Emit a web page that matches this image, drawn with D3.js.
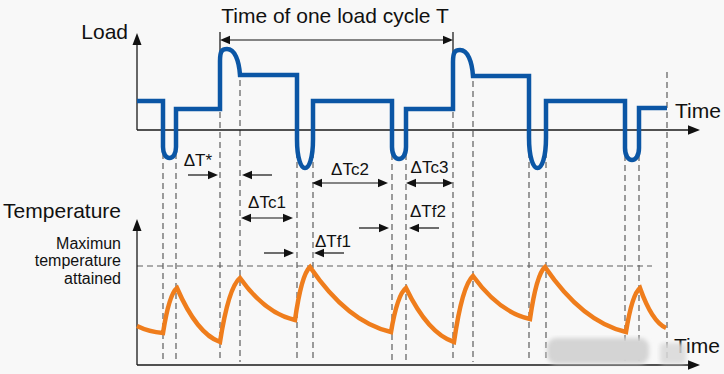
<!DOCTYPE html>
<html>
<head>
<meta charset="utf-8">
<title>Load cycle and temperature</title>
<script src="https://d3js.org/d3.v7.min.js"></script>
<style>
  body { margin: 0; background: #f8f8f8; }
  svg { display: block; font-family: "Liberation Sans", Arial, sans-serif; }
  .axis { stroke: #1a1a1a; stroke-width: 1.3; fill: none; }
  .guide { stroke: #5e5e5e; stroke-width: 1.2; stroke-dasharray: 6 4; fill: none; }
  .load { stroke: #0b56a5; stroke-width: 4.5; fill: none; stroke-linejoin: miter; }
  .temp { stroke: #ef7d1c; stroke-width: 4.5; fill: none; stroke-linejoin: miter; }
  .dim { stroke: #111; stroke-width: 1.2; fill: none; }
  .head { fill: #111; }
  .big { font-size: 21px; fill: #111; }
  .mid { font-size: 16px; fill: #111; }
  .small { font-size: 17px; fill: #111; }
</style>
</head>
<body>
<svg width="724" height="374"></svg>
<script>
// load trace: levels joined by short dips and start-up humps
const loadTimes    = [0, 26, 39, 83, 103, 160, 176, 255, 269, 316, 336, 392, 409, 488, 502, 530];
const loadLevels   = [29, 29, 21, 21, 55, 55, 29, 29, 21, 21, 54, 54, 29, 29, 22, 22];
const loadJoins    = ["start", "line", "dip", "line", "hump", "line", "dip", "line", "dip", "line", "hump", "line", "dip", "line", "dip", "line"];
const loadExtremes = [null, null, -28, null, 81, null, -38, null, -29, null, 80, null, -38, null, -30, null];

// temperature trace: alternating cooling / heating key points
const tempTimes  = [0, 26, 40, 83, 103, 158, 173, 254, 269, 317, 336, 393, 408, 489, 503, 529];
const tempValues = [39, 32, 77, 23, 87, 45, 98, 33, 77, 23, 89, 46, 98, 33, 77, 37];
const tempMax = 99;
const tempMaxEnd = 515;

// cycle length T
const cycleStart = 83, cycleEnd = 316;

// interval annotations
const spanLabels = ["\u0394T*", "\u0394Tc1", "\u0394Tf1", "\u0394Tc2", "\u0394Tc3", "\u0394Tf2"];
const spanFrom   = [83, 104, 159, 175, 269, 254];
const spanTo     = [103, 156, 175, 251, 316, 270];
const spanKinds  = ["outer", "inner", "outer", "inner", "inner", "outer"];
const spanLayout = [
  { y: 175, side: "left",   dy: -9 },
  { y: 218, side: "center", dy: -10 },
  { y: 253, side: "right",  dy: -6 },
  { y: 183, side: "center", dy: -8 },
  { y: 183, side: "center", dy: -10 },
  { y: 228, side: "right",  dy: -11 }
];

const svg = d3.select("svg");

const x = d3.scaleLinear().domain([0, 563]).range([137, 700]);
const loadY = d3.scaleLinear().domain([0, 97]).range([130, 33]);
const tempY = d3.scaleLinear().domain([0, 146]).range([365, 219]);

function head(xt, yt, dir, len, half) {
  let pts;
  if (dir === "right") pts = [[xt, yt], [xt - len, yt - half], [xt - len, yt + half]];
  else if (dir === "left") pts = [[xt, yt], [xt + len, yt - half], [xt + len, yt + half]];
  else pts = [[xt, yt], [xt - half, yt + len], [xt + half, yt + len]];
  svg.append("path").attr("class", "head").attr("d", "M" + pts.join("L") + "Z");
}

// dashed guides
const guideBottom = tempY(3);
loadTimes.forEach((t, i) => {
  if (i === 0) return;
  const py = loadY(loadLevels[i]);
  let top;
  if (loadJoins[i] === "dip") top = loadY(loadExtremes[i]) - (loadExtremes[i] < -33 ? 16 : 5);
  else if (loadJoins[i + 1] === "dip") top = loadY(loadExtremes[i + 1]) - (loadExtremes[i + 1] < -33 ? 16 : 5);
  else if (loadJoins[i] === "hump") top = py + 5;
  else if (loadJoins[i + 1] === "hump") top = py + 3;
  else top = py - 36;
  svg.append("line").attr("class", "guide")
    .attr("x1", x(t)).attr("x2", x(t))
    .attr("y1", top).attr("y2", guideBottom);
});

svg.append("line").attr("class", "guide")
  .attr("x1", x(0)).attr("x2", x(tempMaxEnd))
  .attr("y1", tempY(tempMax)).attr("y2", tempY(tempMax));

// axes
svg.append("path").attr("class", "axis")
  .attr("d", `M${x(0)},${loadY(0)}V${loadY(97) + 6}M${x(0)},${loadY(0)}H${x(563) - 6}`);
head(x(0), loadY(97), "up", 12, 4.5);
head(x(563), loadY(0), "right", 12, 4.8);

svg.append("path").attr("class", "axis")
  .attr("d", `M${x(0)},${tempY(0)}V${tempY(146) + 6}M${x(0)},${tempY(0)}H${x(563) - 6}`);
head(x(0), tempY(146), "up", 12, 4.5);
head(x(563), tempY(0), "right", 12, 4.8);

// cycle T dimension
const cycY = 40;
svg.append("path").attr("class", "dim")
  .attr("d", `M${x(cycleStart)},32V110M${x(cycleEnd)},32V110M${x(cycleStart) + 8},${cycY}H${x(cycleEnd) - 8}`);
head(x(cycleStart), cycY, "left", 10, 4.3);
head(x(cycleEnd), cycY, "right", 10, 4.3);

// load curve
const lp = d3.path();
loadTimes.forEach((t, i) => {
  const px = x(t), py = loadY(loadLevels[i]);
  if (i === 0) { lp.moveTo(px, py); return; }
  const x0 = x(loadTimes[i - 1]);
  const kind = loadJoins[i];
  if (kind === "line") {
    lp.lineTo(px, py);
  } else if (kind === "dip") {
    const yb = loadY(loadExtremes[i]);
    const w = px - x0;
    const d = w * (loadExtremes[i] < -33 ? 1.8 : 0.85);
    const yc = yb - d;
    lp.lineTo(x0, yc);
    lp.bezierCurveTo(x0, yc + d * 4 / 3, px, yc + d * 4 / 3, px, yc);
    lp.lineTo(px, py);
  } else {
    const yp = loadY(loadExtremes[i]);
    const xp = x0 + 0.35 * (px - x0);
    lp.lineTo(x0, yp + 12);
    lp.bezierCurveTo(x0, yp + 2, xp - 5, yp, xp, yp);
    lp.bezierCurveTo(xp + 0.6 * (px - xp), yp, px - 1, yp + 0.45 * (py - yp), px, py);
  }
});
svg.append("path").attr("class", "load").attr("d", lp.toString());

// temperature curve
const tp = d3.path();
tempTimes.forEach((t, i) => {
  const px = x(t), py = tempY(tempValues[i]);
  if (i === 0) { tp.moveTo(px, py); return; }
  const x0 = x(tempTimes[i - 1]), y0 = tempY(tempValues[i - 1]);
  const dx = px - x0, dy = py - y0;
  if (dy > 0) tp.bezierCurveTo(x0 + dx * 0.3, y0 + dy * 0.55, x0 + dx * 0.65, y0 + dy * 0.9, px, py);
  else tp.bezierCurveTo(x0 + dx * 0.25, y0 + dy * 0.5, x0 + dx * 0.6, y0 + dy * 0.9, px, py);
});
svg.append("path").attr("class", "temp").attr("d", tp.toString());

// interval annotations
spanLabels.forEach((label, i) => {
  const a = x(spanFrom[i]), b = x(spanTo[i]);
  const L = spanLayout[i];
  if (spanKinds[i] === "inner") {
    svg.append("line").attr("class", "dim")
      .attr("x1", a + 8).attr("x2", b - 8).attr("y1", L.y).attr("y2", L.y);
    head(a, L.y, "left", 10, 4.2);
    head(b, L.y, "right", 10, 4.2);
  } else {
    svg.append("line").attr("class", "dim")
      .attr("x1", a - 32).attr("x2", a - 10).attr("y1", L.y).attr("y2", L.y);
    svg.append("line").attr("class", "dim")
      .attr("x1", b + 10).attr("x2", b + 32).attr("y1", L.y).attr("y2", L.y);
    head(a - 2, L.y, "right", 10, 4.2);
    head(b + 2, L.y, "left", 10, 4.2);
  }
  const t = svg.append("text").attr("class", "small").attr("y", L.y + L.dy).text(label);
  if (L.side === "center") t.attr("x", (a + b) / 2).attr("text-anchor", "middle");
  else if (L.side === "left") t.attr("x", a - 8).attr("text-anchor", "end");
  else t.attr("x", b + 3);
});

// titles
svg.append("text").attr("class", "big").attr("x", 128).attr("y", 39).attr("text-anchor", "end").text("Load");
svg.append("text").attr("class", "big").attr("x", 335).attr("y", 23).attr("text-anchor", "middle").text("Time of one load cycle T");
svg.append("text").attr("class", "big").attr("x", 675).attr("y", 118).text("Time");
svg.append("text").attr("class", "big").attr("x", 121).attr("y", 218).attr("text-anchor", "end").text("Temperature");
svg.append("text").attr("class", "big").attr("x", 674).attr("y", 353).text("Time");

const maxNote = svg.append("text").attr("class", "mid").attr("text-anchor", "end");
["Maximun", "temperature", "attained"].forEach((s, i) => {
  maxNote.append("tspan").attr("x", 121).attr("y", 248.5 + i * 17.5).text(s);
});

// blurred watermark patch
const defs = svg.append("defs");
defs.append("filter").attr("id", "soft").append("feGaussianBlur").attr("stdDeviation", 2);
svg.append("rect").attr("x", 547).attr("y", 338).attr("width", 102).attr("height", 26).attr("rx", 9)
  .attr("fill", "#d4d4d4").attr("filter", "url(#soft)");
svg.append("rect").attr("x", 660).attr("y", 343).attr("width", 26).attr("height", 21).attr("rx", 4)
  .attr("fill", "#d9d9d9").attr("opacity", 0.85).attr("filter", "url(#soft)");
</script>
</body>
</html>
